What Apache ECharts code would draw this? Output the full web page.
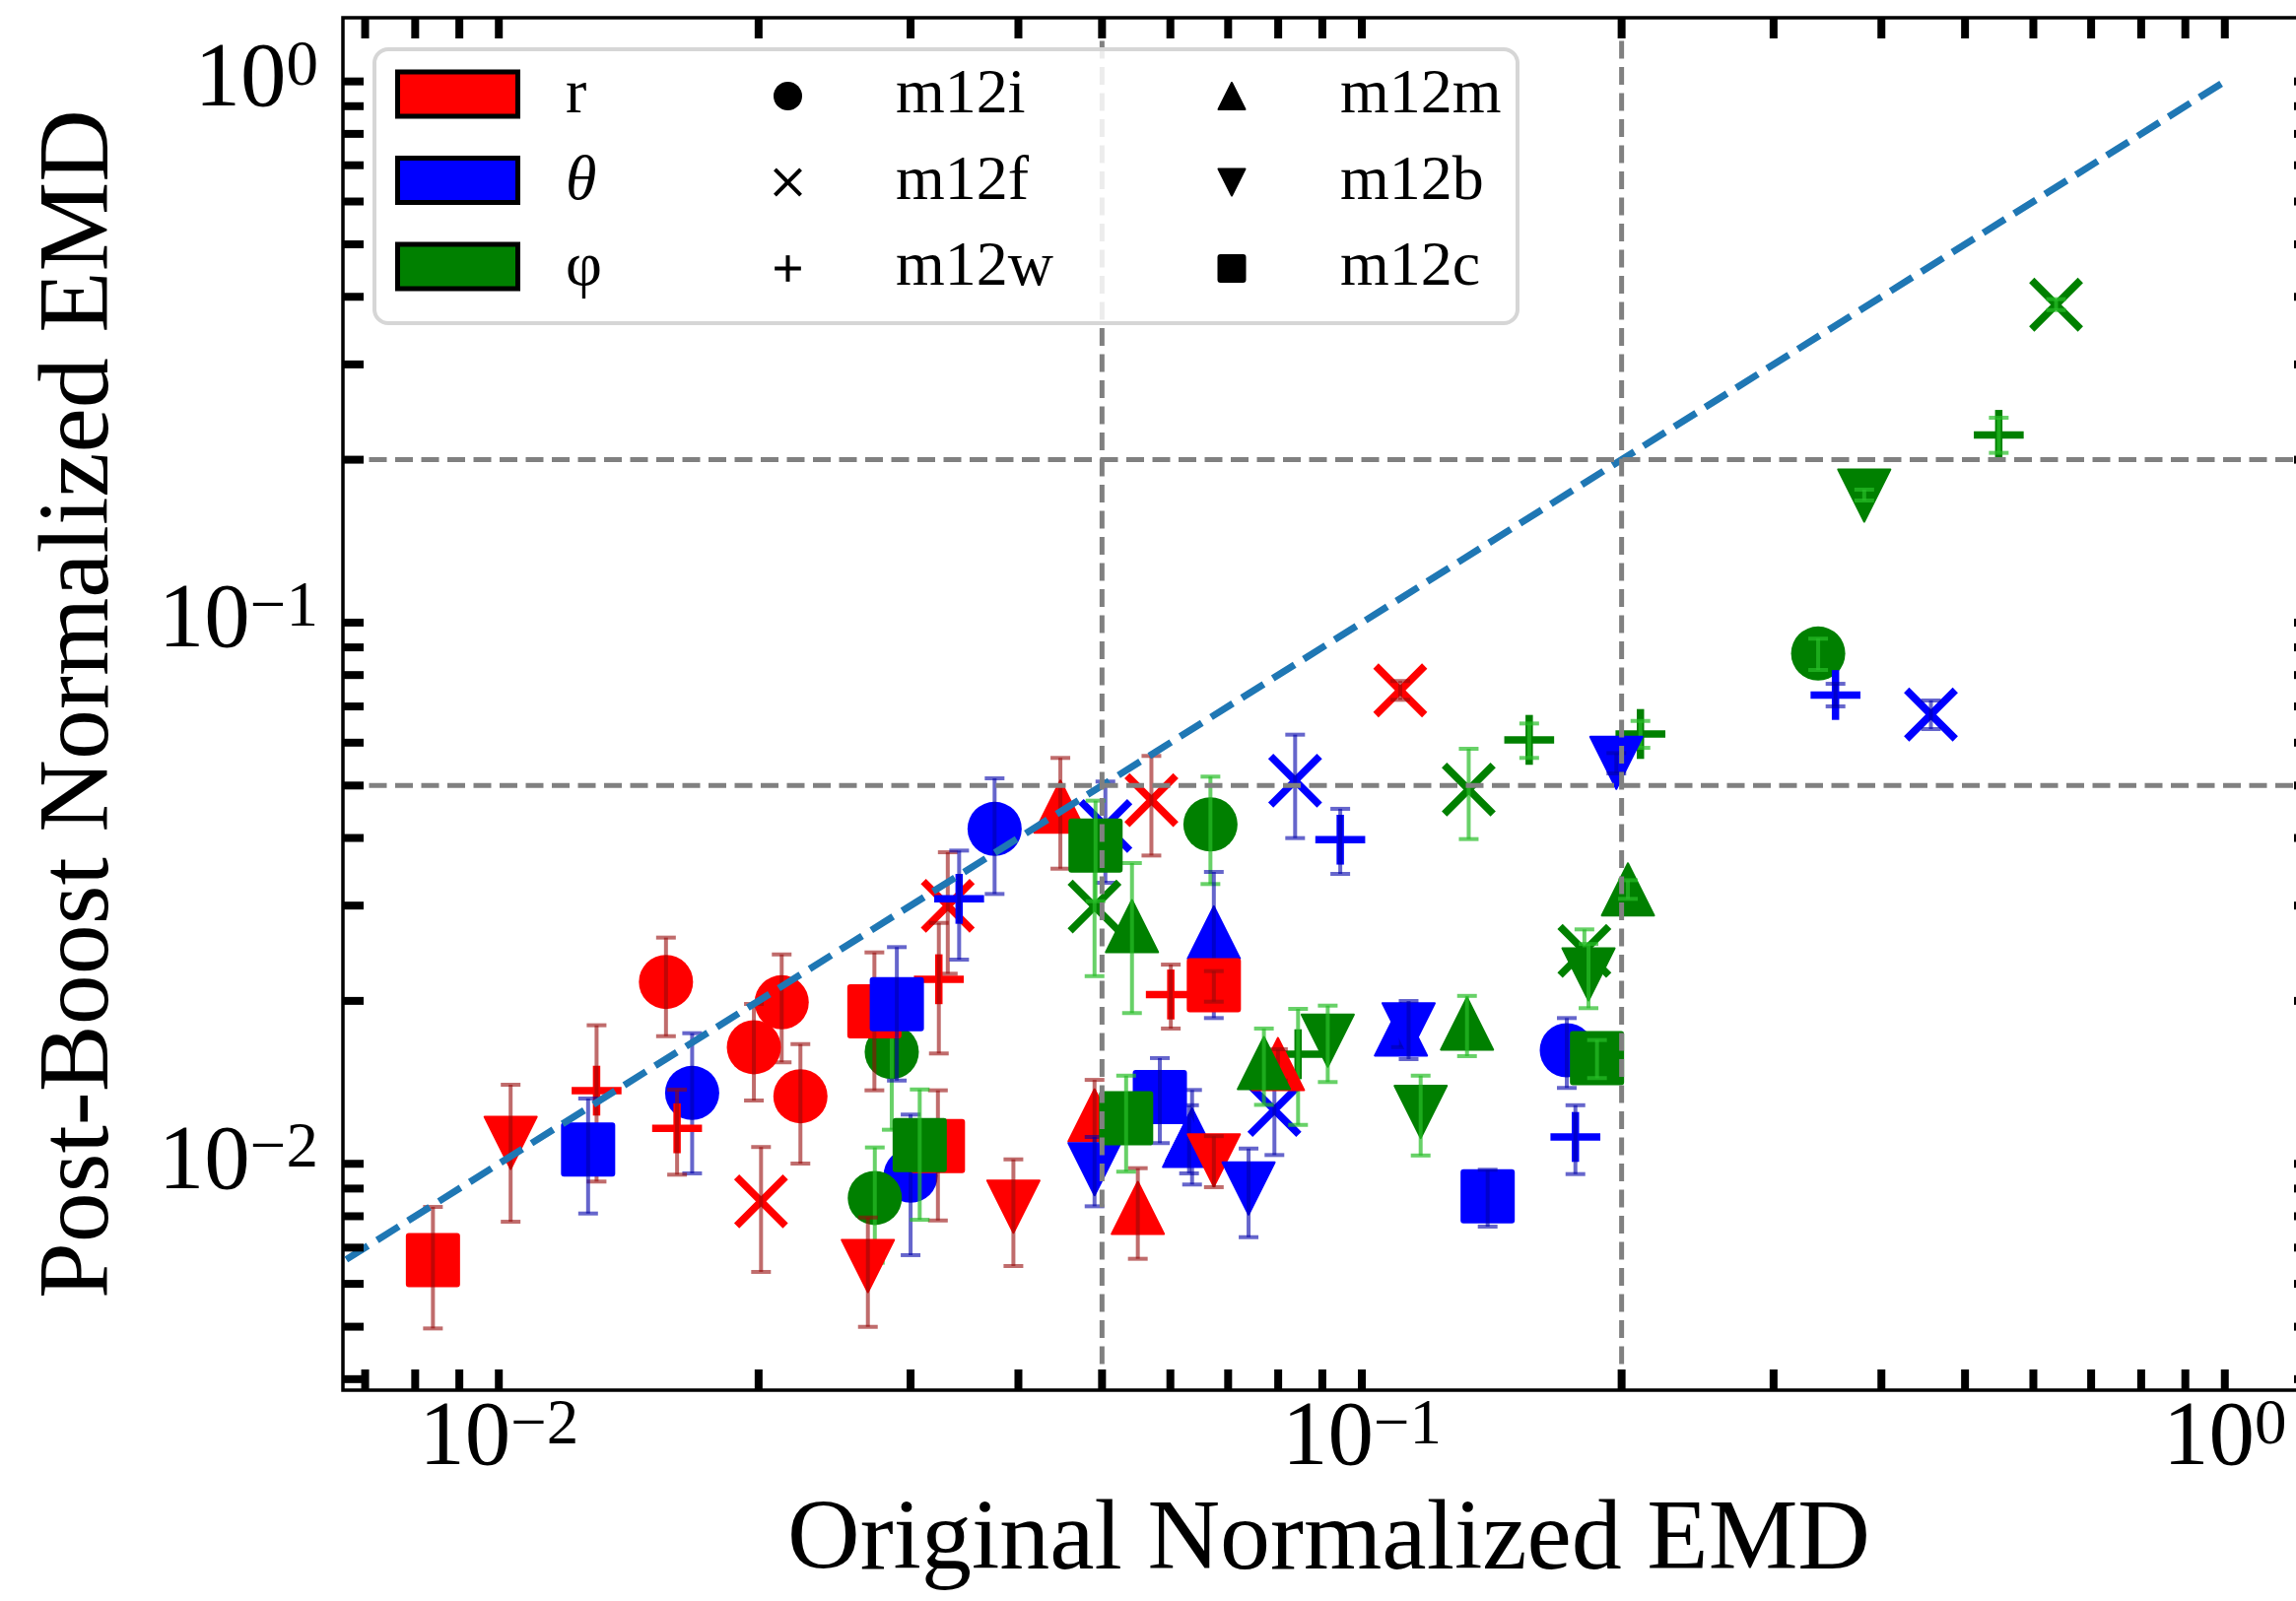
<!DOCTYPE html>
<html><head><meta charset="utf-8">
<script src="https://cdn.jsdelivr.net/npm/echarts/dist/echarts.min.js"></script>
<style>html,body{margin:0;padding:0;background:#fff;overflow:hidden}#c{width:2360px;height:1625px}</style>
</head><body><div id="c"></div>
<script>
// ---- data: [original EMD, post-boost EMD, lower err, upper err] ----
const galaxies = ['m12i','m12f','m12w','m12m','m12b','m12c'];
const components = ['r','θ','φ'];

const r_m12i = [[0.01562,0.02168,0.01721,0.02618],[0.02127,0.01988,0.01540,0.02437],[0.01975,0.01642,0.01309,0.01974],[0.02236,0.01333,0.01001,0.01664]];
const r_m12f = [[0.02013,0.008525,0.006313,0.01074],[0.03313,0.02998,0.02245,0.03764],[0.05704,0.04700,0.03712,0.05671],[0.1108,0.07494,0.0720,0.0780]];
const r_m12w = [[0.01298,0.01365,0.009272,0.01803],[0.01609,0.01163,0.009548,0.01371],[0.03235,0.02193,0.01599,0.02787],[0.06007,0.02055,0.01778,0.02334]];
const r_m12m = [[0.04474,0.04571,0.03510,0.05623],[0.04901,0.01229,0.01015,0.01429],[0.05501,0.008287,0.006675,0.009815],[0.07995,0.01529,0.01425,0.01628]];
const r_m12b = [[0.01032,0.01093,0.007815,0.01400],[0.02677,0.006473,0.004997,0.007957],[0.03947,0.008333,0.006473,0.01019],[0.06738,0.01015,0.009054,0.01125]];
const r_m12c = [[0.008388,0.006640,0.004963,0.008323],[0.02724,0.01912,0.01367,0.02458],[0.03227,0.01078,0.007857,0.01367],[0.06738,0.02138,0.01993,0.02270]];

const t_m12i = [[0.01675,0.01352,0.009601,0.01743],[0.03754,0.04158,0.03152,0.05156],[0.03000,0.009508,0.006780,0.01233],[0.1728,0.01621,0.01381,0.01859]];
const t_m12f = [[0.05045,0.04210,0.03306,0.05085],[0.08370,0.05106,0.03998,0.06208],[0.07920,0.01257,0.01038,0.01497],[0.4565,0.06763,0.06357,0.07180]];
const t_m12w = [[0.03415,0.03087,0.02384,0.03791],[0.09441,0.03971,0.03433,0.04528],[0.1768,0.01121,0.009572,0.01283],[0.3539,0.07350,0.07002,0.07708]];
const t_m12m = [[0.06738,0.02677,0.01859,0.03462],[0.06358,0.01133,0.009156,0.01369],[0.06307,0.01102,0.009601,0.01283],[0.1110,0.01771,0.01643,0.01859]];
const t_m12b = [[0.04901,0.009774,0.008346,0.01121],[0.07392,0.009004,0.007318,0.01067],[0.1972,0.05506,0.05264,0.05740],[0.1133,0.01772,0.01561,0.01999]];
const t_m12c = [[0.01269,0.01063,0.008094,0.01320],[0.02892,0.01971,0.01425,0.02514],[0.05834,0.01329,0.01092,0.01568],[0.1399,0.008709,0.007655,0.009750]];

const p_m12i = [[0.02853,0.01609,0.01156,0.02060],[0.02727,0.008647,0.006565,0.01072],[0.06677,0.04238,0.03288,0.05193],[0.3379,0.08769,0.08176,0.09340]];
const p_m12f = [[0.04901,0.02989,0.02222,0.03749],[0.1330,0.04917,0.03981,0.05846],[0.1811,0.02475,0.02257,0.02711],[0.6375,0.3868,0.3780,0.3960]];
const p_m12w = [[0.08436,0.01594,0.01180,0.01933],[0.1563,0.06072,0.05623,0.06510],[0.2103,0.06226,0.05870,0.06581],[0.5471,0.2223,0.2059,0.2391]];
const p_m12m = [[0.05416,0.02749,0.01899,0.03595],[0.07701,0.01535,0.01285,0.01778],[0.1324,0.01816,0.01581,0.02043],[0.2034,0.03214,0.03087,0.03342]];
const p_m12b = [[0.09131,0.01689,0.01416,0.01960],[0.1170,0.01247,0.01036,0.01455],[0.1831,0.02239,0.01939,0.02548],[0.3821,0.1717,0.1681,0.1761]];
const p_m12c = [[0.04914,0.03872,0.03056,0.04688],[0.03074,0.01083,0.007880,0.01372],[0.05332,0.01214,0.009670,0.01455],[0.1873,0.01568,0.01440,0.01693]];

const thresholds = [0.05, 0.2];
const diagonal = [[0.001, 0.001], [1, 1]];
const xRange = [0.006597, 1.2711];
const yRange = [0.003817, 1.3113];
const xTickValues = [0.007,0.008,0.009,0.01,0.02,0.03,0.04,0.05,0.06,0.07,0.08,0.09,0.1,0.2,0.3,0.4,0.5,0.6,0.7,0.8,0.9,1];
const yTickValues = [0.004,0.005,0.006,0.007,0.008,0.009,0.01,0.02,0.03,0.04,0.05,0.06,0.07,0.08,0.09,0.1,0.2,0.3,0.4,0.5,0.6,0.7,0.8,0.9,1];

// ---- styles ----
const FONT = 'Liberation Serif';
const compColor = {'r':'#ff0000','θ':'#0000ff','φ':'#008000'};
const errColor = {'r':'rgba(150,10,10,0.6)','θ':'rgba(0,0,170,0.6)','φ':'rgba(40,190,40,0.7)'};
const galaxyMarker = {m12i:'circle',m12f:'x',m12w:'plus',m12m:'up',m12b:'down',m12c:'square'};
const dataTable = {
  'r': {m12i:r_m12i,m12f:r_m12f,m12w:r_m12w,m12m:r_m12m,m12b:r_m12b,m12c:r_m12c},
  'θ': {m12i:t_m12i,m12f:t_m12f,m12w:t_m12w,m12m:t_m12m,m12b:t_m12b,m12c:t_m12c},
  'φ': {m12i:p_m12i,m12f:p_m12f,m12w:p_m12w,m12m:p_m12m,m12b:p_m12b,m12c:p_m12c}
};

function markerShapes(kind, cx, cy, color, S, lw) {
  const h = S / 2;
  switch (kind) {
    case 'circle': return [{type:'circle', shape:{cx, cy, r:h}, style:{fill:color}}];
    case 'square': return [{type:'rect', shape:{x:cx-h+1, y:cy-h+1, width:S-2, height:S-2, r:2}, style:{fill:color, stroke:color, lineWidth:2}}];
    case 'up': return [{type:'polygon', shape:{points:[[cx,cy-h+1],[cx-h+1,cy+h-1],[cx+h-1,cy+h-1]]}, style:{fill:color, stroke:color, lineWidth:2, lineJoin:'round'}}];
    case 'down': return [{type:'polygon', shape:{points:[[cx,cy+h-1],[cx-h+1,cy-h+1],[cx+h-1,cy-h+1]]}, style:{fill:color, stroke:color, lineWidth:2, lineJoin:'round'}}];
    case 'x': { const a = S * 0.45; return [
      {type:'line', shape:{x1:cx-a, y1:cy-a, x2:cx+a, y2:cy+a}, style:{stroke:color, lineWidth:lw}},
      {type:'line', shape:{x1:cx-a, y1:cy+a, x2:cx+a, y2:cy-a}, style:{stroke:color, lineWidth:lw}}]; }
    case 'plus': { const a = S * 0.46; return [
      {type:'line', shape:{x1:cx-a, y1:cy, x2:cx+a, y2:cy}, style:{stroke:color, lineWidth:lw}},
      {type:'line', shape:{x1:cx, y1:cy-a, x2:cx, y2:cy+a}, style:{stroke:color, lineWidth:lw}}]; }
  }
  return [];
}

function dataSeries(comp, gal) {
  const color = compColor[comp], ecol = errColor[comp], kind = galaxyMarker[gal];
  return {
    type:'custom', name: comp + ' ' + gal, coordinateSystem:'cartesian2d',
    data: dataTable[comp][gal], encode:{x:0, y:1}, z:2, silent:true,
    renderItem: function (params, api) {
      const c = api.coord([api.value(0), api.value(1)]);
      const lo = api.coord([api.value(0), api.value(2)]);
      const hi = api.coord([api.value(0), api.value(3)]);
      const children = markerShapes(kind, c[0], c[1], color, 55, 7.5);
      const cw = 10, ew = 4;
      children.push({type:'line', shape:{x1:c[0], y1:lo[1], x2:c[0], y2:hi[1]}, style:{stroke:ecol, lineWidth:ew}});
      children.push({type:'line', shape:{x1:c[0]-cw, y1:lo[1], x2:c[0]+cw, y2:lo[1]}, style:{stroke:ecol, lineWidth:ew}});
      children.push({type:'line', shape:{x1:c[0]-cw, y1:hi[1], x2:c[0]+cw, y2:hi[1]}, style:{stroke:ecol, lineWidth:ew}});
      return {type:'group', children};
    }
  };
}

function powFmt(v) {
  const l = Math.log10(v), k = Math.round(l);
  if (Math.abs(l - k) > 1e-6) return '';
  return '{b|10}{s|' + (k < 0 ? '\u2212' + (-k) : String(k)) + '}';
}
const labelRich = {
  b:{fontFamily:FONT, fontSize:93, lineHeight:93, verticalAlign:'bottom', color:'#000'},
  s:{fontFamily:FONT, fontSize:65, lineHeight:45, verticalAlign:'top', color:'#000'}
};

const series = [];
for (const g of galaxies) for (const c of components) series.push(dataSeries(c, g));

// reference lines
series.push({type:'line', data:diagonal, symbol:'none', z:5, silent:true, clip:true,
  lineStyle:{color:'#1f77b4', width:7, type:[26,11]}});
for (const t of thresholds) {
  series.push({type:'line', data:[[t, yRange[0]],[t, yRange[1]]], symbol:'none', z:5, silent:true, clip:true,
    lineStyle:{color:'#808080', width:5, type:[18,8.5]}});
  series.push({type:'line', data:[[xRange[0], t],[xRange[1], t]], symbol:'none', z:5, silent:true, clip:true,
    lineStyle:{color:'#808080', width:5, type:[18,8.5]}});
}
// ticks (inward, all four sides)
const TL = 21, TW = 8;
series.push({type:'custom', data:xTickValues.map(v => [v, yRange[0]]), encode:{x:0,y:1}, z:6, silent:true,
  renderItem: function (params, api) {
    const b = api.coord([api.value(0), yRange[0]]), t = api.coord([api.value(0), yRange[1]]);
    return {type:'group', children:[
      {type:'rect', shape:{x:b[0]-TW/2, y:b[1]-TL, width:TW, height:TL}, style:{fill:'#000'}},
      {type:'rect', shape:{x:t[0]-TW/2, y:t[1], width:TW, height:TL}, style:{fill:'#000'}}]};
  }});
series.push({type:'custom', data:yTickValues.map(v => [xRange[0], v]), encode:{x:0,y:1}, z:6, silent:true,
  renderItem: function (params, api) {
    const l = api.coord([xRange[0], api.value(1)]), r = api.coord([xRange[1], api.value(1)]);
    return {type:'group', children:[
      {type:'rect', shape:{x:l[0], y:l[1]-TW/2, width:TL, height:TW}, style:{fill:'#000'}},
      {type:'rect', shape:{x:r[0]-TL, y:r[1]-TW/2, width:TL, height:TW}, style:{fill:'#000'}}]};
  }});

// legend (drawn as graphic, matplotlib style)
const legendRows = [95.5, 183, 270.5];
const graphic = [{type:'rect', z:50, shape:{x:380, y:50, width:1160, height:278, r:14},
  style:{fill:'rgba(255,255,255,0.85)', stroke:'#d6d6d6', lineWidth:4}}];
components.forEach((c, i) => {
  const yc = legendRows[i];
  graphic.push({type:'rect', z:51, shape:{x:403.5, y:yc-22.5, width:122, height:45}, style:{fill:compColor[c], stroke:'#000', lineWidth:5}});
  graphic.push({type:'text', z:51, x:574, y:yc+2, style:{text:c, fontFamily:FONT, fontSize:64, fontStyle:(c==='θ'?'italic':'normal'), fill:'#000', verticalAlign:'middle'}});
});
galaxies.forEach((g, i) => {
  const col = Math.floor(i / 3), row = i % 3;
  const mx = col === 0 ? 799.5 : 1250, tx = col === 0 ? 909 : 1360, yc = legendRows[row] + 2;
  markerShapes(galaxyMarker[g], mx, yc, '#000', 29, 4).forEach(el => { el.z = 52; graphic.push(el); });
  graphic.push({type:'text', z:51, x:tx, y:yc, style:{text:g, fontFamily:FONT, fontSize:64, fill:'#000', verticalAlign:'middle'}});
});

const chart = echarts.init(document.getElementById('c'), null, {renderer:'canvas', width:2360, height:1625});
chart.setOption({
  animation:false,
  backgroundColor:'#fff',
  grid:{left:348, top:18, width:2001, height:1393, show:true, borderColor:'#000', borderWidth:3.5, backgroundColor:'transparent'},
  xAxis:{type:'log', logBase:10, min:xRange[0], max:xRange[1],
    axisLine:{show:false}, axisTick:{show:false}, splitLine:{show:false}, minorTick:{show:false},
    axisLabel:{margin:4, formatter:powFmt, rich:labelRich, showMinLabel:false, showMaxLabel:false, interval:0},
    name:'Original Normalized EMD', nameLocation:'middle', nameGap:103,
    nameTextStyle:{fontFamily:FONT, fontSize:102, color:'#000'}},
  yAxis:{type:'log', logBase:10, min:yRange[0], max:yRange[1],
    axisLine:{show:false}, axisTick:{show:false}, splitLine:{show:false}, minorTick:{show:false},
    axisLabel:{margin:25, formatter:powFmt, rich:labelRich, showMinLabel:false, showMaxLabel:false, interval:0},
    name:'Post-Boost Normalized EMD', nameLocation:'middle', nameGap:215,
    nameTextStyle:{fontFamily:FONT, fontSize:102, color:'#000'}},
  series:series,
  graphic:graphic
});
</script></body></html>
